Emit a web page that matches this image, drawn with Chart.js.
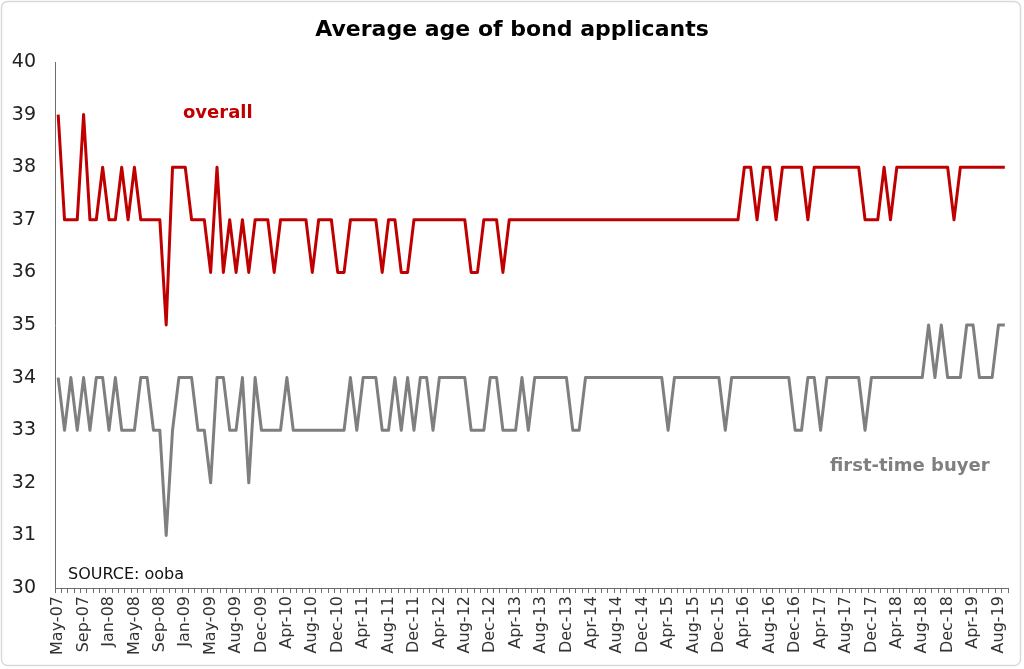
<!DOCTYPE html>
<html>
<head>
<meta charset="utf-8">
<title>Average age of bond applicants</title>
<script src="https://cdn.jsdelivr.net/npm/chart.js@4.4.1/dist/chart.umd.min.js"></script>
<style>
  body { margin: 0; background: #fff; }
  #wrap { width: 1024px; height: 669px; }
</style>
</head>
<body>
<div id="wrap"><canvas id="age-chart" width="1024" height="669"></canvas></div>
<script>
// months (the source series has two Jul-09 rows)
const months = [
  "May-07","Jun-07","Jul-07","Aug-07","Sep-07","Oct-07","Nov-07","Dec-07",
  "Jan-08","Feb-08","Mar-08","Apr-08","May-08","Jun-08","Jul-08","Aug-08","Sep-08","Oct-08","Nov-08","Dec-08",
  "Jan-09","Feb-09","Mar-09","Apr-09","May-09","Jun-09","Jul-09","Jul-09","Aug-09","Sep-09","Oct-09","Nov-09","Dec-09",
  "Jan-10","Feb-10","Mar-10","Apr-10","May-10","Jun-10","Jul-10","Aug-10","Sep-10","Oct-10","Nov-10","Dec-10",
  "Jan-11","Feb-11","Mar-11","Apr-11","May-11","Jun-11","Jul-11","Aug-11","Sep-11","Oct-11","Nov-11","Dec-11",
  "Jan-12","Feb-12","Mar-12","Apr-12","May-12","Jun-12","Jul-12","Aug-12","Sep-12","Oct-12","Nov-12","Dec-12",
  "Jan-13","Feb-13","Mar-13","Apr-13","May-13","Jun-13","Jul-13","Aug-13","Sep-13","Oct-13","Nov-13","Dec-13",
  "Jan-14","Feb-14","Mar-14","Apr-14","May-14","Jun-14","Jul-14","Aug-14","Sep-14","Oct-14","Nov-14","Dec-14",
  "Jan-15","Feb-15","Mar-15","Apr-15","May-15","Jun-15","Jul-15","Aug-15","Sep-15","Oct-15","Nov-15","Dec-15",
  "Jan-16","Feb-16","Mar-16","Apr-16","May-16","Jun-16","Jul-16","Aug-16","Sep-16","Oct-16","Nov-16","Dec-16",
  "Jan-17","Feb-17","Mar-17","Apr-17","May-17","Jun-17","Jul-17","Aug-17","Sep-17","Oct-17","Nov-17","Dec-17",
  "Jan-18","Feb-18","Mar-18","Apr-18","May-18","Jun-18","Jul-18","Aug-18","Sep-18","Oct-18","Nov-18","Dec-18",
  "Jan-19","Feb-19","Mar-19","Apr-19","May-19","Jun-19","Jul-19","Aug-19","Sep-19"
];

const overall = [
  39,37,37,37,39,37,37,38,37,37,
  38,37,38,37,37,37,37,35,38,38,
  38,37,37,37,36,38,36,37,36,37,
  36,37,37,37,36,37,37,37,37,37,
  36,37,37,37,36,36,37,37,37,37,
  37,36,37,37,36,36,37,37,37,37,
  37,37,37,37,37,36,36,37,37,37,
  36,37,37,37,37,37,37,37,37,37,
  37,37,37,37,37,37,37,37,37,37,
  37,37,37,37,37,37,37,37,37,37,
  37,37,37,37,37,37,37,37,38,38,
  37,38,38,37,38,38,38,38,37,38,
  38,38,38,38,38,38,38,37,37,37,
  38,37,38,38,38,38,38,38,38,38,
  38,37,38,38,38,38,38,38,38,38
];

const firstTime = [
  34,33,34,33,34,33,34,34,33,34,
  33,33,33,34,34,33,33,31,33,34,
  34,34,33,33,32,34,34,33,33,34,
  32,34,33,33,33,33,34,33,33,33,
  33,33,33,33,33,33,34,33,34,34,
  34,33,33,34,33,34,33,34,34,33,
  34,34,34,34,34,33,33,33,34,34,
  33,33,33,34,33,34,34,34,34,34,
  34,33,33,34,34,34,34,34,34,34,
  34,34,34,34,34,34,33,34,34,34,
  34,34,34,34,34,33,34,34,34,34,
  34,34,34,34,34,34,33,33,34,34,
  33,34,34,34,34,34,34,33,34,34,
  34,34,34,34,34,34,34,35,34,35,
  34,34,34,35,35,34,34,34,35,35
];

const yTicks = [30, 31, 32, 33, 34, 35, 36, 37, 38, 39, 40];

const FONT = "'DejaVu Sans', sans-serif";
const RED = "#c00000";
const GREY = "#7f7f7f";
const AXIS = "#6d6d6d";

/* title, series labels, source note and the outer frame */
const extras = {
  id: 'extras',
  afterDraw(chart) {
    const ctx = chart.ctx;
    ctx.save();
    ctx.fillStyle = "#000";
    ctx.font = "bold 22px " + FONT;
    ctx.textAlign = 'center';
    ctx.textBaseline = 'middle';
    ctx.fillText("Average age of bond applicants", 512, 30);

    ctx.textBaseline = 'alphabetic';
    ctx.textAlign = 'left';
    ctx.fillStyle = RED;
    ctx.font = "bold 18px " + FONT;
    ctx.fillText("overall", 183, 118);
    ctx.fillStyle = GREY;
    ctx.fillText("first-time buyer", 830, 471);
    ctx.fillStyle = "#111";
    ctx.font = "16px " + FONT;
    ctx.fillText("SOURCE: ooba", 68, 579);
    // chart frame
    ctx.strokeStyle = "#d9d9d9";
    ctx.lineWidth = 1.5;
    ctx.beginPath();
    ctx.roundRect(1.5, 1.5, 1019, 664, 6);
    ctx.stroke();
    ctx.restore();
  }
};

new Chart(document.getElementById("age-chart"), {
  type: 'line',
  data: {
    labels: months,
    datasets: [{
        label: "overall",
        data: overall,
        borderColor: RED,
        borderWidth: 3,
        borderJoinStyle: 'round',
        pointRadius: 0,
        fill: false
      }, {
        label: "first-time buyer",
        data: firstTime,
        borderColor: GREY,
        borderWidth: 3,
        borderJoinStyle: 'round',
        pointRadius: 0,
        fill: false
      }
    ]
  },
  options: {
    responsive: false,
    animation: false,
    layout: { padding: { left: 0, right: 16, top: 62, bottom: 0 } },
    plugins: {
      legend: { display: false },
      tooltip: { enabled: false },
      title: { display: false }
    },
    scales: {
      x: {
        offset: true,
        grid: { offset: true, drawOnChartArea: false, drawTicks: true, tickLength: 5, color: AXIS },
        border: { display: true, color: AXIS, width: 1 },
        ticks: {
          autoSkip: false,
          maxRotation: 90,
          minRotation: 90,
          padding: 3,
          color: '#333',
          font: { family: FONT, size: 16 },
          callback: function (value, index) {
            return index % 4 === 0 ? this.getLabelForValue(value) : '';
          }
        },
        afterFit(scale) {
          scale.height = 81;
          scale.paddingLeft = 0;
          scale.paddingRight = 0;
        }
      },
      y: {
        min: 30,
        max: 40,
        afterBuildTicks(scale) { scale.ticks = yTicks.map(v => ({ value: v })); },
        grid: { drawOnChartArea: false, drawTicks: false },
        border: { display: true, color: AXIS, width: 1 },
        ticks: {
          padding: 19,
          color: '#222',
          font: { family: FONT, size: 19 }
        },
        afterFit(scale) { scale.width = 55; }
      }
    }
  },
  plugins: [extras]
});
</script>
</body>
</html>
